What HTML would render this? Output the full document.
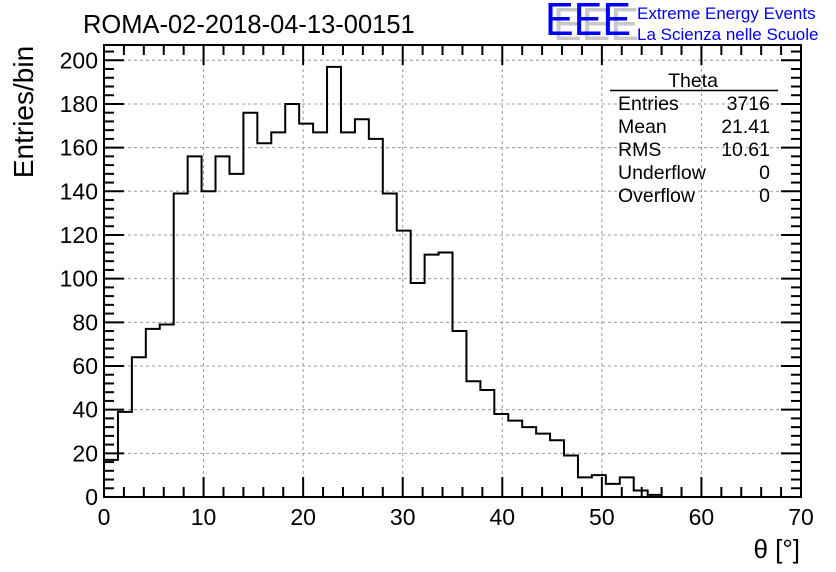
<!DOCTYPE html>
<html><head><meta charset="utf-8"><style>
html,body{margin:0;padding:0;background:#fff;}
svg{display:block;font-family:"Liberation Sans",sans-serif;}
</style></head><body>
<svg id="chart" width="836" height="572" viewBox="0 0 836 572">
<rect x="0" y="0" width="836" height="572" fill="#fff"/>
<g id="grid"></g>
<g id="ticks"></g>
<path id="hist" fill="none" stroke="#000" stroke-width="2"/>
<rect x="104" y="45" width="697" height="452" fill="none" stroke="#000" stroke-width="2"/>
<g id="labels" font-size="23" fill="#000"></g>
<text x="83" y="33" font-size="25.5">ROMA-02-2018-04-13-00151</text>
<text x="33" y="112" font-size="28" text-anchor="middle" transform="rotate(-90 33 112)">Entries/bin</text>
<text x="800" y="558" font-size="26" text-anchor="end">θ [°]</text>
<g>
<text x="553" y="40" font-size="46" fill="#c8c8c8" textLength="86" lengthAdjust="spacingAndGlyphs">EEE</text>
<text x="545" y="35" font-size="46" fill="#0000ff" textLength="86" lengthAdjust="spacingAndGlyphs">EEE</text>
<text x="637" y="19" font-size="17" fill="#0000ff">Extreme Energy Events</text>
<text x="637" y="40" font-size="17" fill="#0000ff">La Scienza nelle Scuole</text>
</g>
<g font-size="19.5">
<text x="693" y="87" text-anchor="middle">Theta</text>
<line x1="610" y1="90.5" x2="778" y2="90.5" stroke="#000" stroke-width="1.5"/>
<text x="618" y="110">Entries</text><text x="770" y="110" text-anchor="end">3716</text>
<text x="618" y="133">Mean</text><text x="770" y="133" text-anchor="end">21.41</text>
<text x="618" y="156">RMS</text><text x="770" y="156" text-anchor="end">10.61</text>
<text x="618" y="179">Underflow</text><text x="770" y="179" text-anchor="end">0</text>
<text x="618" y="202">Overflow</text><text x="770" y="202" text-anchor="end">0</text>
</g>
</svg>
<script>
const binWidth = 1.4;
const counts = [17,39,64,77,79,139,156,140,156,148,176,162,167,180,171,167,197,167,173,164,139,122,98,111,112,76,53,49,38,35,32,29,26,19,9,10,6,9,3,1,0,0,0,0,0,0,0,0,0,0];
const xTicks = [0,10,20,30,40,50,60,70];
const yTicks = [0,20,40,60,80,100,120,140,160,180,200];
const X0=104, X1=801, Y0=497, YT=45, XMAX=70, YMAX=207;
const sx = v => X0 + v*(X1-X0)/XMAX;
const sy = v => Y0 - v*(Y0-YT)/YMAX;
const NS='http://www.w3.org/2000/svg';
const mk=(t,a,p)=>{const e=document.createElementNS(NS,t);for(const k in a)e.setAttribute(k,a[k]);p.appendChild(e);return e;};
const grid=document.getElementById('grid'), ticks=document.getElementById('ticks'), labels=document.getElementById('labels');
xTicks.forEach(v=>{
  if(v>0&&v<XMAX){const l=mk('line',{x1:sx(v),x2:sx(v),y1:YT,y2:Y0,stroke:'#999','stroke-dasharray':'3,3','stroke-width':1},grid);
  
  }
  const t=mk('text',{x:sx(v),y:Y0+28,'text-anchor':'middle'},labels);t.textContent=v;
  
  
});
yTicks.forEach(v=>{
  if(v>0){const l=mk('line',{x1:X0,x2:X1,y1:sy(v),y2:sy(v),stroke:'#999','stroke-dasharray':'3,3','stroke-width':1},grid);
  
  }
  const t=mk('text',{x:X0-6,y:sy(v)+8,'text-anchor':'end'},labels);t.textContent=v;
  
  
});
for(let v=0;v<=XMAX;v+=2){const L=(v%10===0)?20:10;
  mk('line',{x1:sx(v),x2:sx(v),y1:Y0,y2:Y0-L,stroke:'#000','stroke-width':2},ticks);
  mk('line',{x1:sx(v),x2:sx(v),y1:YT,y2:YT+L,stroke:'#000','stroke-width':2},ticks);}
for(let v=0;v<=YMAX;v+=4){const L=(v%20===0)?20:10;
  mk('line',{x1:X0,x2:X0+L,y1:sy(v),y2:sy(v),stroke:'#000','stroke-width':2},ticks);
  mk('line',{x1:X1,x2:X1-L,y1:sy(v),y2:sy(v),stroke:'#000','stroke-width':2},ticks);}
let d='M'+sx(0)+','+sy(0);
counts.forEach((c,i)=>{d+=' L'+sx(i*binWidth)+','+sy(c)+' L'+sx((i+1)*binWidth)+','+sy(c);});
document.getElementById('hist').setAttribute('d',d);
</script>
</body></html>
